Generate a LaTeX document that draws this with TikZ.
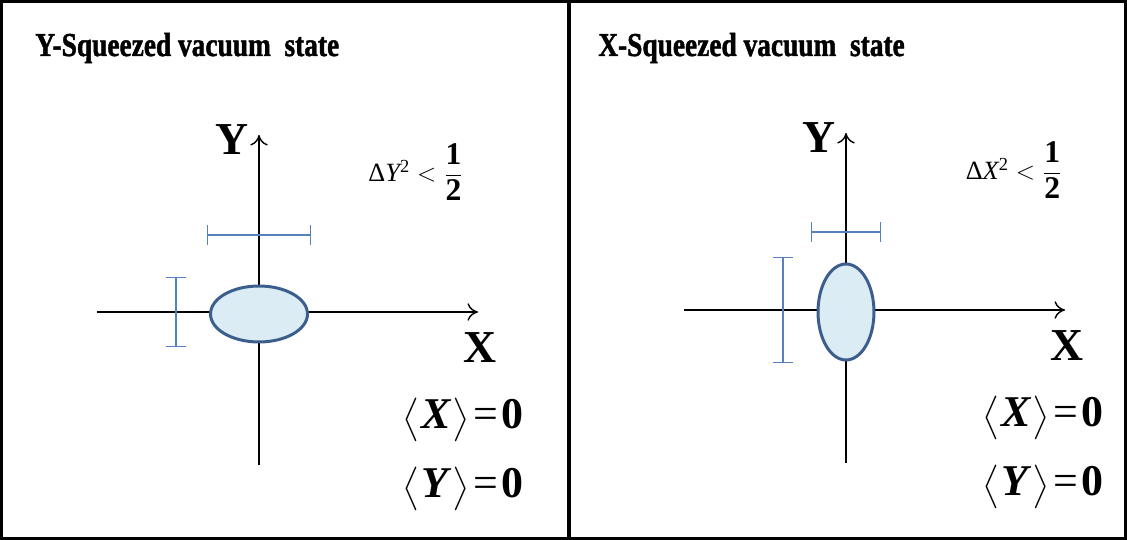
\documentclass[tikz,border=0pt]{standalone}
\usepackage{amsmath}
\usepackage{fontspec}
\setmainfont{Liberation Serif}
\newfontfamily\heavyserif{Liberation Serif}[BoldFeatures={FakeBold=1.5}]
\usepackage{xcolor}
\usepackage{tikz}
\usetikzlibrary{arrows.meta,shapes.geometric}
\definecolor{blobfill}{RGB}{219,236,244}
\definecolor{blobline}{RGB}{60,94,140}
\definecolor{barcol}{RGB}{84,130,190}
\newcommand{\angl}[1]{{\fontsize{21}{24}\selectfont$#1$}}
\newcommand{\mean}[1]{\angl{\bigl\langle}\kern1pt\textbf{\textit{#1}}\kern1pt\angl{\bigr\rangle}\kern2pt=\kern2pt\textbf{0}}
\newcommand{\bignum}[1]{\text{\fontsize{18}{20}\selectfont\bfseries #1}}

\begin{document}
\begin{tikzpicture}[x=0.02cm, y=-0.02cm, every node/.style={inner sep=0pt}]
  \tikzstyle{axis}=[line width=0.8pt,-{To[length=6pt,width=10pt]}]
  \tikzstyle{errbar}=[barcol,line width=0.8pt,{Bar[width=11pt]}-{Bar[width=11pt]}]
  \tikzstyle{blob}=[ellipse,draw=blobline,line width=1.7pt,fill=blobfill,inner sep=0pt]
  \tikzstyle{title}=[anchor=base west,font=\fontsize{19}{22}\selectfont\heavyserif\bfseries]
  \tikzstyle{axlabel}=[anchor=base,font=\fontsize{26}{30}\selectfont\bfseries]
  \tikzstyle{avg}=[anchor=base,font=\fontsize{25}{30}\selectfont]
  \tikzstyle{uncert}=[font=\fontsize{15}{18}\selectfont]
  \useasboundingbox (0,0) rectangle (1127,540);
  % frame and divider
  \draw[line width=2pt] (1.5,1.5) rectangle (1125.5,538.5);
  \coordinate (divtop) at (569,0);
  \coordinate (divbot) at (569,540);
  \draw[line width=2pt] (divtop) -- (divbot);
  \node[title] (titleL) at (35,56) {\scalebox{0.82}[1]{Y-Squeezed vacuum\ \ state}};
  \node[title] (titleR) at (598,56) {\scalebox{0.82}[1]{X-Squeezed vacuum\ \ state}};
  % two phase-space panels
  \foreach \p/\ox/\oy/\ew/\eh/\hy/\hw/\vx/\vh/\q/\fx/\mx in {L/259/312/97/56/-77/52/-83/35/Y/157/204, R/846/310/56/96/-78/35/-63/53/X/168/197} {
    \begin{scope}[shift={(\ox,\oy)}]
      \coordinate (xl\p) at (-162,0);
      \coordinate (xr\p) at (219,0);
      \coordinate (yb\p) at (0,153);
      \coordinate (yt\p) at (0,-177);
      \draw[axis] (xl\p) -- (xr\p);
      \draw[axis] (yb\p) -- (yt\p);
      \node[blob,minimum width=\ew*0.02cm,minimum height=\eh*0.02cm] (sq\p) at (0,2) {};
      \coordinate (ha\p) at (-\hw,\hy);
      \coordinate (hb\p) at (\hw,\hy);
      \draw[errbar] (ha\p) -- (hb\p);
      \coordinate (va\p) at (\vx,-\vh);
      \coordinate (vb\p) at (\vx,\vh);
      \draw[errbar] (va\p) -- (vb\p);
      \node[axlabel] (ylab\p) at (-27,-157) {Y};
      \node[axlabel] (xlab\p) at (221,51) {X};
      \node[uncert] (dq\p) at (\fx,-140) {$\text{Δ}\textit{\q}^{\text{2}}<\dfrac{\bignum{1}}{\bignum{2}}$};
      \node[avg] (ax\p) at (\mx,117) {\mean{X}};
      \node[avg] (ay\p) at (\mx,186) {\mean{Y}};
    \end{scope}
  }
\end{tikzpicture}
\end{document}
